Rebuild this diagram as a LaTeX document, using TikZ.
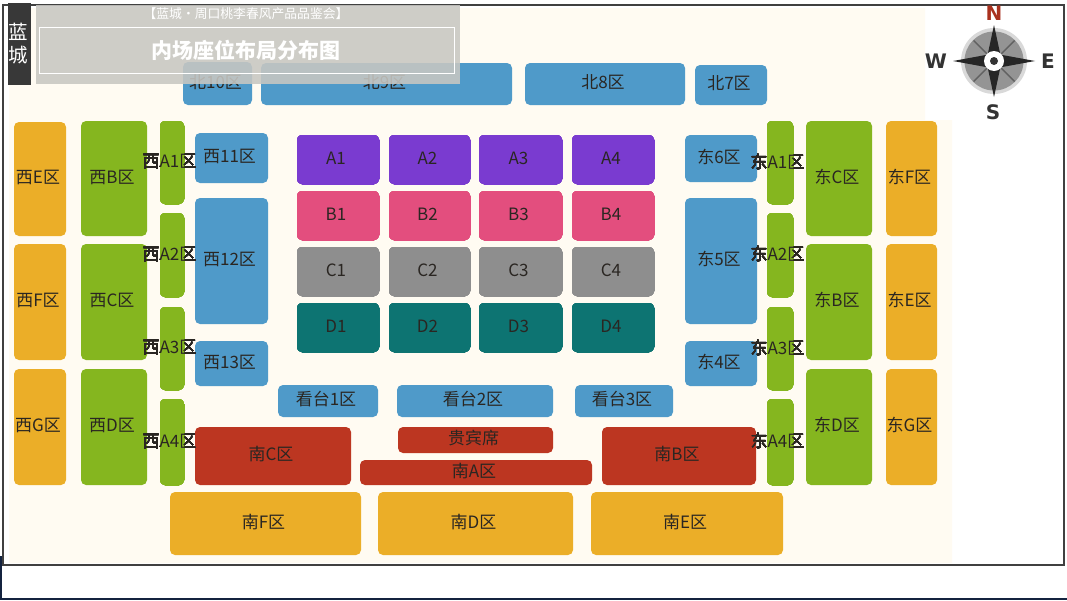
\documentclass[tikz,border=0pt]{standalone}
\usepackage{fontspec}
\setmainfont{Noto Sans CJK SC}
\newfontfamily\compassfont{DejaVu Sans}
\usepackage{tikz}
\usetikzlibrary{calc}
\definecolor{cream}{HTML}{FFFBF2}
\definecolor{orangezone}{HTML}{EBAE28}
\definecolor{greenzone}{HTML}{85B61F}
\definecolor{bluezone}{HTML}{4F9AC9}
\definecolor{purplezone}{HTML}{7A3BD0}
\definecolor{pinkzone}{HTML}{E34E7E}
\definecolor{grayzone}{HTML}{8E8E8E}
\definecolor{tealzone}{HTML}{0D7472}
\definecolor{redzone}{HTML}{BC3621}
\definecolor{textdark}{HTML}{2A2622}
\definecolor{panel}{HTML}{C8C7C2}
\definecolor{navy}{HTML}{14233F}
\tikzset{
  zone/.style={rectangle,rounded corners=5pt,inner sep=0pt,text=textdark,
    text height=13pt,text depth=4pt,font=\fontsize{17}{17}\selectfont},
  strip/.style={rectangle,rounded corners=5pt,inner sep=0pt,fill=greenzone},
  striptext/.style={inner sep=0pt,text=textdark,font=\fontsize{17}{17}\selectfont,xshift=-2.5pt,yshift=1pt},
  letter/.style={font=\compassfont\bfseries\fontsize{#1}{#1}\selectfont,inner sep=0pt},
}
% x0 y0 x1 y1 : corners of a zone in picture units
\newcommand{\zonebox}[7]{%
  \node[zone,fill=#1,minimum width={#4-#2},minimum height={#5-#3}] (#6)
    at ({(#2+#4)/2},{(#3+#5)/2}) {#7\kern4pt};
}
\begin{document}
\begin{tikzpicture}[x=1pt,y=-1pt]
  \useasboundingbox (0,0) rectangle (1067,600);
  \fill[white] (0,0) rectangle (1067,600);
  % floor
  \fill[cream] (9,8) -- (925,8) -- (925,120) -- (952,120) -- (952,563) -- (9,563) -- cycle;
  % north
  \zonebox{bluezone}{183}{62}{252}{105}{north10}{北10区}
  \zonebox{bluezone}{261}{63}{512}{105}{north9}{北9区}
  \zonebox{bluezone}{525}{63}{685}{105}{north8}{北8区}
  \zonebox{bluezone}{695}{65}{767}{105}{north7}{北7区}
  % west and east outer columns
  \foreach \nm/\xa/\xb/\ya/\yb/\col/\txt in {
    westE/14/66/122/236/orangezone/西E区, westF/14/66/244/360/orangezone/西F区, westG/14/66/369/485/orangezone/西G区,
    westB/81/147/121/236/greenzone/西B区, westC/81/147/244/360/greenzone/西C区, westD/81/147/369/485/greenzone/西D区,
    eastC/806/872/121/236/greenzone/东C区, eastB/806/872/244/360/greenzone/东B区, eastD/806/872/369/485/greenzone/东D区,
    eastF/886/937/121/236/orangezone/东F区, eastE/886/937/244/360/orangezone/东E区, eastG/886/937/369/485/orangezone/东G区,
    west11/195/268/133/183/bluezone/西11区, west12/195/268/198/324/bluezone/西12区, west13/195/268/341/386/bluezone/西13区,
    east6/685/757/135/182/bluezone/东6区, east5/685/757/198/324/bluezone/东5区, east4/685/757/341/386/bluezone/东4区,
    stand1/278/378/385/417/bluezone/看台1区, stand2/397/553/385/417/bluezone/看台2区, stand3/575/673/385/417/bluezone/看台3区,
    vip/398/553/427/453/redzone/贵宾席, southA/360/592/460/485/redzone/南A区,
    southC/195/351/427/485/redzone/南C区, southB/602/756/427/485/redzone/南B区,
    southF/170/361/492/555/orangezone/南F区, southD/378/573/492/555/orangezone/南D区, southE/591/783/492/555/orangezone/南E区}
    \zonebox{\col}{\xa}{\ya}{\xb}{\yb}{\nm}{\txt}
  % narrow strips, labels run over the edges
  \foreach \i/\ya/\yb in {1/121/204,2/213/297,3/307/390,4/399/485} {
    \node[strip,minimum width=24pt,minimum height={\yb-\ya},
      label={[striptext]center:西A\i 区}] (westA\i) at (172,{(\ya+\yb)/2}) {};
    \node[strip,minimum width=26pt,minimum height={\yb-\ya},
      label={[striptext]center:东A\i 区}] (eastA\i) at (780,{(\ya+\yb)/2}) {};
  }
  % centre blocks
  \foreach \r/\col/\ya/\yb in {A/purplezone/135/184,B/pinkzone/191/240,C/grayzone/247/296,D/tealzone/303/352}
    \foreach \c/\xa/\xb in {1/297/379,2/389/470,3/479/562,4/572/654}
      \zonebox{\col}{\xa}{\ya}{\xb}{\yb}{\r\c}{\r\c}
  % frame
  \draw[black!75,line width=1.3pt] (3,5) rectangle (1064,565);
  \draw[navy,line width=1.5pt] (0.8,556) -- (0.8,599.2) -- (1067,599.2);
  % title panel
  \node[fill=panel,fill opacity=.88,minimum width=424pt,minimum height=79pt,inner sep=0pt] (panel) at (248,44.5) {};
  \node[draw=white,line width=.6pt,minimum width=415pt,minimum height=46pt,inner sep=0pt] (titlebox) at (246.5,50) {};
  \node[text=white,font=\fontsize{12.8}{13}\selectfont] (subtitle) at (246,14) {【蓝城·周口桃李春风产品品鉴会】};
  \node[text=white,font=\bfseries\fontsize{21}{21}\selectfont] (title) at (246,50.5) {内场座位布局分布图};
  \node[fill=black!78,text=white,minimum width=23pt,minimum height=82pt,inner sep=0pt,
    align=center,font=\fontsize{19.5}{23}\selectfont] (tag) at (19.5,44) {\hspace*{-3pt}蓝\\\hspace*{-3pt}城};
  % compass
  \fill[black!15] (994,61) circle (33);
  \fill[black!42] (994,61) circle (29.5);
  \foreach \a in {45,135,225,315}
    \draw[black!62,line width=1.4pt] (994,61) -- ++(\a:29);
  \foreach \a/\r in {90/36,180/41,270/36,0/41}
    \fill[black!85] ($(994,61)+(\a:\r)$) -- ($(994,61)+(\a+45:9)$) -- ($(994,61)+(\a+180:9)$) -- ($(994,61)+(\a-45:9)$) -- cycle;
  \fill[white] (994,61) circle (10);
  \fill[black!80] (994,61) circle (4);
  \node[letter=20,text=redzone!90!black] (compN) at (994,13) {N};
  \node[letter=20,text=black!80] (compW) at (936,61) {W};
  \node[letter=20,text=black!80] (compE) at (1048,61) {E};
  \node[letter=20,text=black!80] (compS) at (993,112) {S};
\end{tikzpicture}
\end{document}
